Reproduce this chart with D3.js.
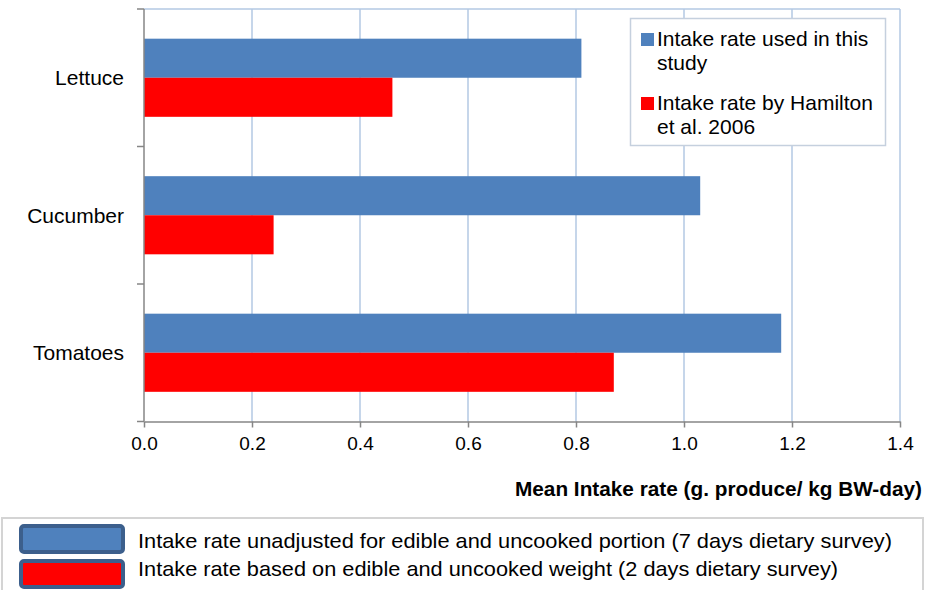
<!DOCTYPE html>
<html>
<head>
<meta charset="utf-8">
<script src="https://cdn.jsdelivr.net/npm/d3@7"></script>
<style>
  html, body { margin: 0; padding: 0; background: #fff; }
  svg { display: block; }
  text { font-family: Arial, "Liberation Sans", sans-serif; fill: #000; }
</style>
</head>
<body>
<svg id="chart" width="925" height="590"></svg>
<script>
// Produce categories (top to bottom) and the two intake-rate series
const categories = ["Lettuce", "Cucumber", "Tomatoes"];
const seriesNames = ["Intake rate used in this study", "Intake rate by Hamilton et al. 2006"];
const usedInStudy = [0.81, 1.03, 1.18];
const hamilton2006 = [0.46, 0.24, 0.87];
const xTicks = [0, 0.2, 0.4, 0.6, 0.8, 1.0, 1.2, 1.4];
const xTitle = "Mean Intake rate (g. produce/ kg BW-day)";
const legendLines = [["Intake rate used in this", "study"], ["Intake rate by Hamilton", "et al. 2006"]];
const noteLines = [
  "Intake rate unadjusted for edible and uncooked portion (7 days dietary survey)",
  "Intake rate based on edible and uncooked weight  (2 days dietary survey)"
];

const colors = ["#4f81bd", "#ff0000"];
const gridColor = "#b3c8e3";
const axisColor = "#868686";

const svg = d3.select("#chart");
const plot = { left: 144, right: 900, top: 9, bottom: 421.5 };

const x = d3.scaleLinear().domain([0, 1.4]).range([plot.left, plot.right]);
const y = d3.scaleBand().domain(categories).range([plot.top, plot.bottom]).padding(0);
const ySeries = d3.scaleBand().domain([0, 1]).range([0, y.bandwidth()]).paddingInner(0).paddingOuter(0.76);

// Plot frame: top edge and vertical gridlines
svg.append("line")
  .attr("x1", plot.left).attr("x2", plot.right)
  .attr("y1", plot.top).attr("y2", plot.top)
  .attr("stroke", gridColor).attr("stroke-width", 1.5);

svg.append("g").selectAll("line")
  .data(xTicks.filter(d => d > 0))
  .join("line")
  .attr("x1", d => x(d)).attr("x2", d => x(d))
  .attr("y1", plot.top).attr("y2", plot.bottom)
  .attr("stroke", gridColor).attr("stroke-width", 1.5);

// Bars
const rows = categories.map((c, i) => ({ cat: c, values: [usedInStudy[i], hamilton2006[i]] }));
const groups = svg.append("g").selectAll("g")
  .data(rows)
  .join("g")
  .attr("transform", d => `translate(0,${y(d.cat)})`);

groups.selectAll("rect")
  .data(d => d.values.map((v, s) => ({ v, s })))
  .join("rect")
  .attr("x", x(0))
  .attr("y", d => ySeries(d.s))
  .attr("width", d => x(d.v) - x(0))
  .attr("height", ySeries.bandwidth())
  .attr("fill", d => colors[d.s]);

// Bottom axis
const xAxis = d3.axisBottom(x)
  .tickValues(xTicks)
  .tickFormat(d3.format(".1f"))
  .tickSizeInner(6)
  .tickSizeOuter(0)
  .tickPadding(9);

const gx = svg.append("g")
  .attr("transform", `translate(0,${plot.bottom})`)
  .call(xAxis);
gx.select(".domain").attr("stroke", axisColor).attr("stroke-width", 1.5);
gx.selectAll(".tick line").attr("stroke", axisColor).attr("stroke-width", 1.5);
gx.selectAll(".tick text")
  .attr("font-family", "Arial, 'Liberation Sans', sans-serif")
  .attr("font-size", 19)
  .attr("fill", "#000");

// Left axis with ticks on the category boundaries
const gy = svg.append("g");
gy.append("line")
  .attr("x1", plot.left).attr("x2", plot.left)
  .attr("y1", plot.top).attr("y2", plot.bottom)
  .attr("stroke", axisColor).attr("stroke-width", 1.5);
const boundaries = categories.map(c => y(c)).concat([y(categories[categories.length - 1]) + y.step()]);
gy.selectAll(".bt")
  .data(boundaries)
  .join("line")
  .attr("class", "bt")
  .attr("x1", plot.left - 7).attr("x2", plot.left)
  .attr("y1", d => d).attr("y2", d => d)
  .attr("stroke", axisColor).attr("stroke-width", 1.5);
gy.selectAll("text")
  .data(categories)
  .join("text")
  .attr("x", 124)
  .attr("y", d => y(d) + y.bandwidth() / 2)
  .attr("dy", "0.35em")
  .attr("text-anchor", "end")
  .attr("font-size", 21)
  .text(d => d);

// Axis title
svg.append("text")
  .attr("x", 515)
  .attr("y", 496)
  .attr("font-size", 19.5)
  .attr("font-weight", "bold")
  .attr("textLength", 407)
  .attr("lengthAdjust", "spacingAndGlyphs")
  .text(xTitle);

// Legend inside the plot
const lg = svg.append("g");
lg.append("rect")
  .attr("x", 630.5).attr("y", 18.5)
  .attr("width", 255).attr("height", 127)
  .attr("fill", "#fff")
  .attr("stroke", "#c5d0de").attr("stroke-width", 1.5);

const legendItems = lg.selectAll("g")
  .data(legendLines)
  .join("g")
  .attr("transform", (d, i) => `translate(641,${46 + i * 64})`);
legendItems.append("rect")
  .attr("x", 0).attr("y", -13)
  .attr("width", 13).attr("height", 13)
  .attr("fill", (d, i) => colors[i]);
legendItems.selectAll("text")
  .data(d => d)
  .join("text")
  .attr("x", 16)
  .attr("y", (d, j) => j * 24)
  .attr("font-size", 21)
  .text(d => d);

// Explanatory key below the chart
const note = svg.append("g");
note.append("rect")
  .attr("x", 2).attr("y", 518)
  .attr("width", 921).attr("height", 80)
  .attr("fill", "#fff")
  .attr("stroke", "#d4d4d4").attr("stroke-width", 2);

const noteItems = note.selectAll("g.item")
  .data(noteLines)
  .join("g")
  .attr("class", "item")
  .attr("transform", (d, i) => `translate(0,${i * 35})`);
noteItems.append("rect")
  .attr("x", 21).attr("y", 526)
  .attr("width", 102).attr("height", 26)
  .attr("rx", 3)
  .attr("fill", (d, i) => colors[i])
  .attr("stroke", "#3c5f8c").attr("stroke-width", 4);
const noteWidths = [754, 700];
noteItems.append("text")
  .attr("x", 138)
  .attr("y", (d, i) => 547.5 - i * 6.5)
  .attr("font-family", "Carlito, 'Liberation Sans Narrow', 'DejaVu Sans Condensed', sans-serif")
  .attr("font-size", 21)
  .attr("textLength", (d, i) => noteWidths[i])
  .attr("lengthAdjust", "spacingAndGlyphs")
  .text(d => d);
</script>
</body>
</html>
